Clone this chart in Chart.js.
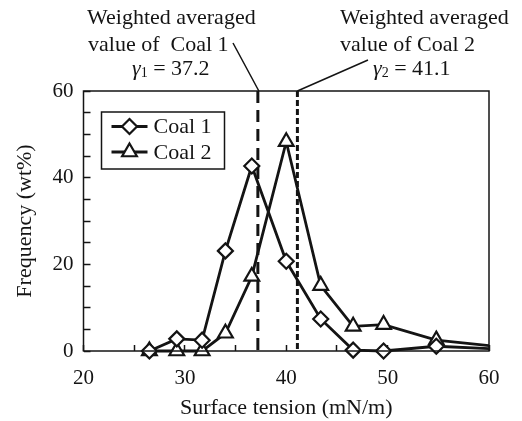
<!DOCTYPE html>
<html>
<head>
<meta charset="utf-8">
<script src="https://cdn.jsdelivr.net/npm/chart.js@4.4.1/dist/chart.umd.min.js"></script>
<style>
  html, body { margin: 0; padding: 0; background: #fff; }
  #wrap { width: 522px; height: 421px; }
</style>
</head>
<body>
<div id="wrap"><canvas id="grafico" width="522" height="421"></canvas></div>
<script>
// datos
const tensionSuperficial = [26.5, 29.2, 31.7, 34.0, 36.6, 40.0, 43.4, 46.6, 49.6, 54.8, 65];
const coal1 = [0, 2.8, 2.5, 23.1, 42.7, 20.7, 7.4, 0.2, 0, 1.1, 0];
const coal2 = [0, 0, 0, 4.1, 17.2, 48.3, 15.1, 5.7, 6.1, 2.5, 0];
const promedios = [37.2, 41.1];
const etiquetas = ["Coal 1", "Coal 2"];
const xTicks = [20, 30, 40, 50, 60];
const yTicks = [0, 20, 40, 60];

const FUENTE = '"Liberation Serif", "Times New Roman", serif';
const NEGRO = "#141414";

function puntos(valores) {
    return tensionSuperficial.map((t, i) => ({ x: t, y: valores[i] }));
}

function serie(label, valores, estilo, radio) {
    return {
        label: label,
        data: puntos(valores),
        borderColor: NEGRO,
        borderWidth: 2.8,
        pointStyle: estilo,
        pointRadius: radio,
        pointHoverRadius: radio,
        pointBorderWidth: 2.2,
        pointBackgroundColor: "#fff",
        pointBorderColor: NEGRO,
        tension: 0,
        clip: { left: 12, top: 12, right: 0, bottom: 12 }
    };
}

function lineaPromedio(valor, dash) {
    return {
        label: "",
        data: [{ x: valor, y: 60 }, { x: valor, y: 0 }],
        borderColor: NEGRO,
        borderWidth: 3,
        borderDash: dash,
        pointRadius: 0,
        pointHoverRadius: 0
    };
}

// marco, leyenda y anotaciones
const extras = {
    id: "extras",
    afterDatasetsDraw(chart) {
        const { ctx, chartArea } = chart;
        const xs = chart.scales.x, ys = chart.scales.y;
        ctx.save();

        // marco completo
        ctx.strokeStyle = NEGRO;
        ctx.lineWidth = 1.5;
        ctx.strokeRect(chartArea.left, chartArea.top, chartArea.right - chartArea.left, chartArea.bottom - chartArea.top);

        // leyenda
        const lx = chartArea.left + 18, ly = chartArea.top + 21;
        ctx.strokeRect(lx, ly, 123, 57);
        ctx.font = "22px " + FUENTE;
        ctx.textBaseline = "middle";
        ctx.textAlign = "left";
        [0, 1].forEach(i => {
            const ds = chart.data.datasets[i];
            const y = ly + 14.5 + i * 25.5;
            ctx.strokeStyle = NEGRO;
            ctx.lineWidth = ds.borderWidth;
            ctx.beginPath();
            ctx.moveTo(lx + 10, y);
            ctx.lineTo(lx + 46, y);
            ctx.stroke();
            ctx.fillStyle = "#fff";
            ctx.lineWidth = ds.pointBorderWidth;
            Chart.helpers.drawPoint(ctx, { pointStyle: ds.pointStyle, radius: ds.pointRadius, borderWidth: ds.pointBorderWidth, rotation: 0 }, lx + 28, y);
            ctx.fillStyle = NEGRO;
            ctx.fillText(ds.label, lx + 52, y + 1);
        });

        // textos de promedio
        ctx.textBaseline = "alphabetic";
        ctx.fillStyle = NEGRO;
        ctx.font = "22px " + FUENTE;
        ctx.fillText("Weighted averaged", 87, 24);
        ctx.fillText("value of  Coal 1", 88, 51);
        ctx.fillText("Weighted averaged", 340, 24);
        ctx.fillText("value of Coal 2", 340, 51);

        function gamma(x, y, sub, valor) {
            ctx.font = "italic 22px " + FUENTE;
            ctx.fillText("\u03b3", x, y);
            let w = ctx.measureText("\u03b3").width;
            ctx.font = "14px " + FUENTE;
            ctx.fillText(sub, x + w, y + 2);
            w += ctx.measureText(sub).width;
            ctx.font = "22px " + FUENTE;
            ctx.fillText(" = " + valor, x + w, y);
        }
        gamma(132, 75, "1", promedios[0].toFixed(1));
        gamma(373, 75, "2", promedios[1].toFixed(1));

        // lineas guia
        ctx.lineWidth = 1.5;
        ctx.beginPath();
        ctx.moveTo(233, 43);
        ctx.lineTo(xs.getPixelForValue(promedios[0]) + 1, ys.getPixelForValue(60));
        ctx.moveTo(xs.getPixelForValue(promedios[1]), ys.getPixelForValue(60));
        ctx.lineTo(368, 60);
        ctx.stroke();

        ctx.restore();
    }
};

const chart = new Chart(document.getElementById("grafico").getContext("2d"), {
    type: "line",
    data: {
        datasets: [
            serie(etiquetas[0], coal1, "rectRot", 7.5),
            serie(etiquetas[1], coal2, "triangle", 8.5),
            lineaPromedio(promedios[0], [12, 7]),
            lineaPromedio(promedios[1], [6, 3])
        ]
    },
    options: {
        responsive: false,
        animation: false,
        layout: { padding: { left: 0, right: 33, top: 91, bottom: 0 } },
        plugins: {
            legend: { display: false },
            tooltip: { enabled: false }
        },
        scales: {
            x: {
                type: "linear",
                min: 20,
                max: 60,
                afterFit: s => { s.height = 70; },
                afterBuildTicks: s => { s.ticks = [20, 25, 30, 35, 40, 45, 50, 55, 60].map(v => ({ value: v })); },
                border: { display: false },
                grid: { drawOnChartArea: false, tickLength: -6, tickWidth: 1.5, tickColor: NEGRO },
                ticks: {
                    autoSkip: false,
                    padding: 21,
                    color: NEGRO,
                    font: { family: FUENTE, size: 21 },
                    maxRotation: 0,
                    callback: v => xTicks.includes(v) ? String(v) : ""
                },
                title: {
                    display: true,
                    text: "Surface tension (mN/m)",
                    color: NEGRO,
                    font: { family: FUENTE, size: 22 },
                    padding: { top: 0, bottom: 0 }
                }
            },
            y: {
                min: 0,
                max: 60,
                afterFit: s => { s.width = 83.5; },
                afterBuildTicks: s => {
                    const t = [];
                    for (let v = 0; v <= 60; v += 5) t.push({ value: v });
                    s.ticks = t;
                },
                border: { display: false },
                grid: { drawOnChartArea: false, tickLength: -7, tickWidth: 1.5, tickColor: NEGRO },
                ticks: {
                    autoSkip: false,
                    padding: 17,
                    color: NEGRO,
                    font: { family: FUENTE, size: 21 },
                    callback: v => yTicks.includes(v) ? String(v) : ""
                },
                title: {
                    display: true,
                    text: "Frequency (wt%)",
                    color: NEGRO,
                    font: { family: FUENTE, size: 22 },
                    padding: { top: 12, bottom: 0 }
                }
            }
        }
    },
    plugins: [extras]
});
</script>
</body>
</html>
